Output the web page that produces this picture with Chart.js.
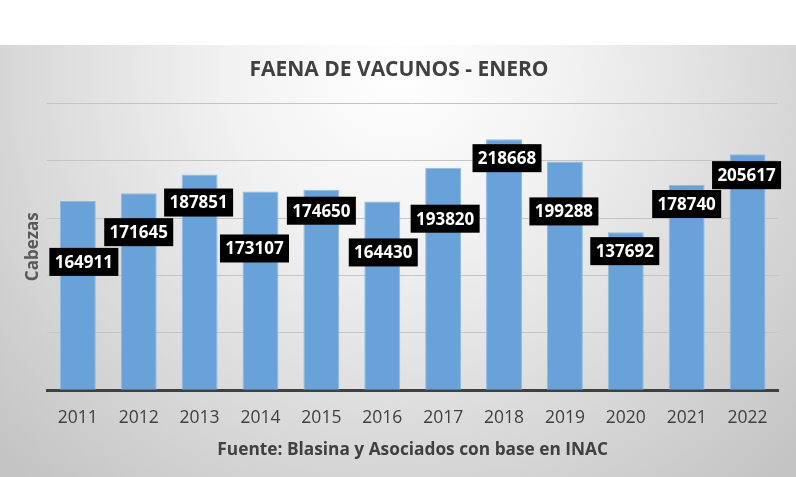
<!DOCTYPE html>
<html>
<head>
<meta charset="utf-8">
<script src="https://cdn.jsdelivr.net/npm/chart.js@4/dist/chart.umd.min.js"></script>
<style>
  html, body { margin: 0; padding: 0; background: #fff; }
  #wrap { width: 796px; height: 477px; }
</style>
</head>
<body>
<div id="wrap"><canvas id="faenaChart"></canvas></div>
<script>
// data
const years = ["2011", "2012", "2013", "2014", "2015", "2016", "2017", "2018", "2019", "2020", "2021", "2022"];
const cabezas = [164911, 171645, 187851, 173107, 174650, 164430, 193820, 218668, 199288, 137692, 178740, 205617];

// where each label box sits relative to the top of its bar (px)
const labelDx = [6, 0, -1, -6, 0, 1, 2, 3, -1, -1, 0, -1];
const labelDy = [61, 39, 28, 57, 21, 51, 51, 19, 50, 19, 19, 21];

const textColor = "#404040";

// gray panel with a light centre, like the Excel chart area
const panelBackground = {
  id: "panelBackground",
  beforeDraw(chart) {
    const { ctx, width, height } = chart;
    ctx.save();
    ctx.fillStyle = "#ffffff";
    ctx.fillRect(0, 0, width, height);
    const g = ctx.createRadialGradient(398, 70, 0, 398, 70, 560);
    g.addColorStop(0, "#ffffff");
    g.addColorStop(0.3, "#f2f2f2");
    g.addColorStop(1, "#c3c3c3");
    ctx.fillStyle = g;
    ctx.fillRect(0, 45, width, height - 45);
    ctx.restore();
  },
};

// black boxes with white values
const boxLabels = {
  id: "boxLabels",
  afterDatasetsDraw(chart) {
    const { ctx } = chart;
    const bars = chart.getDatasetMeta(0).data;
    ctx.save();
    ctx.font = "bold 17px 'Open Sans'";
    ctx.textAlign = "center";
    ctx.textBaseline = "middle";
    bars.forEach((bar, i) => {
      const cx = bar.x + labelDx[i];
      const cy = bar.y + labelDy[i];
      ctx.fillStyle = "#000000";
      ctx.fillRect(cx - 34.5, cy - 14, 69, 28);
      ctx.fillStyle = "#ffffff";
      ctx.fillText(String(cabezas[i]), cx, cy + 1);
    });
    ctx.restore();
  },
};

new Chart(document.getElementById("faenaChart"), {
  type: "bar",
  data: {
    labels: years,
    datasets: [
      {
        label: "Cabezas",
        data: cabezas,
        backgroundColor: "#68a2d8",
        borderColor: "#8dbae4",
        borderWidth: 1,
        barPercentage: 0.59,
        categoryPercentage: 1,
      },
    ],
  },
  options: {
    responsive: true,
    maintainAspectRatio: false,
    animation: false,
    layout: { padding: { top: 45, left: 20, right: 18, bottom: 10 } },
    plugins: {
      legend: { display: false },
      tooltip: { enabled: false },
      title: {
        display: true,
        text: "FAENA DE VACUNOS - ENERO",
        color: textColor,
        font: { family: "Open Sans", size: 21, weight: "bold" },
        padding: { top: 12, bottom: 21 },
      },
    },
    scales: {
      x: {
        grid: { display: false },
        border: { color: "#404040", width: 3 },
        ticks: {
          color: textColor,
          font: { family: "Open Sans", size: 17.5 },
          padding: 9,
          maxRotation: 0,
        },
        title: {
          display: true,
          text: "Fuente: Blasina y Asociados con base en INAC",
          color: textColor,
          font: { family: "Open Sans", size: 17.3, weight: "bold" },
          padding: { top: 2, bottom: 7 },
        },
      },
      y: {
        min: 0,
        max: 250000,
        ticks: { display: false, stepSize: 50000 },
        grid: { color: "#c4c4c4", drawTicks: false },
        border: { display: false },
        title: {
          display: true,
          text: "Cabezas",
          color: "#595959",
          font: { family: "Open Sans", size: 17, weight: "bold" },
          padding: { top: 3, bottom: 4 },
        },
      },
    },
  },
  plugins: [panelBackground, boxLabels],
});
</script>
</body>
</html>
